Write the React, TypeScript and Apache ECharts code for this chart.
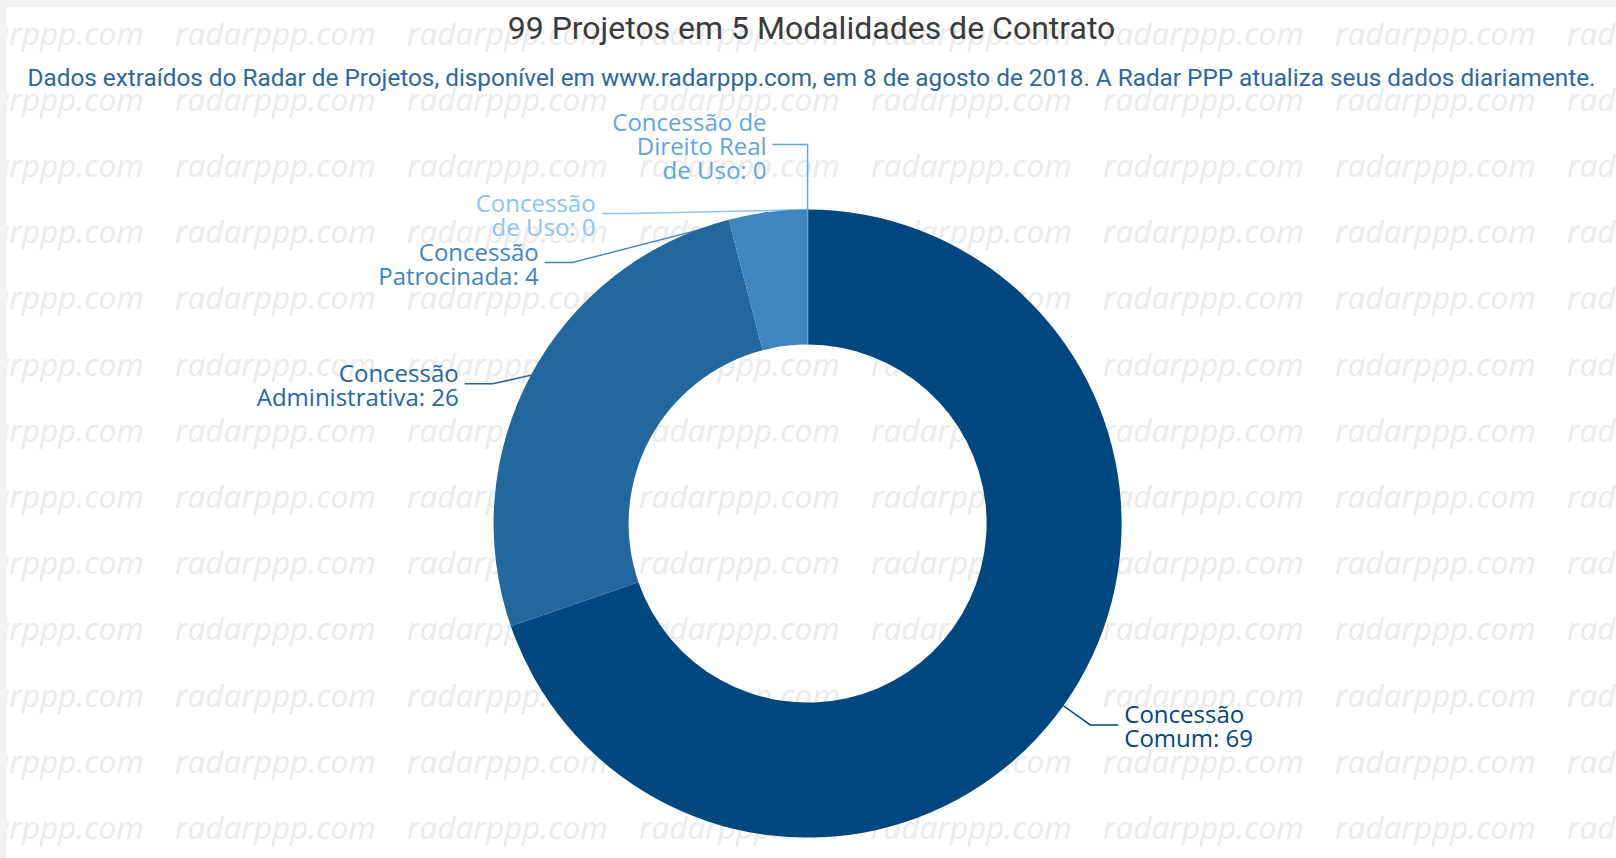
import React, { useEffect, useRef } from "react";
import * as echarts from "echarts";

const titleText = "99 Projetos em 5 Modalidades de Contrato";
const subtitleText =
  "Dados extraídos do Radar de Projetos, disponível em www.radarppp.com, em 8 de agosto de 2018. A Radar PPP atualiza seus dados diariamente.";

const categories = [
  "Concessão Comum",
  "Concessão Administrativa",
  "Concessão Patrocinada",
  "Concessão de Uso",
  "Concessão de Direito Real de Uso",
];
const wrappedNames = [
  "Concessão\nComum",
  "Concessão\nAdministrativa",
  "Concessão\nPatrocinada",
  "Concessão\nde Uso",
  "Concessão de\nDireito Real\nde Uso",
];
const values = [69, 26, 4, 0, 0];
const colors = ["#00467f", "#22679e", "#3f86bf", "#8ec4ee", "#5fa6dd"];
const watermarkText = "radarppp.com";

// label-placement tweaks (emulating the older overlap-avoidance layout)
const labelShiftX = [0, -9, -191, -178, 0];
const labelShiftY = [0, 24, 83, 37, -32];
const labelLen2 = [28, 28, 28, 28, 35];

const CX = 800.6;
const CY = 516.6;
const R_IN = 179;
const R_OUT = 314;
const LEN1 = 33;
const LEN2 = 28;
const GAP = 6;

export default function App() {
  const ref = useRef<HTMLDivElement>(null);

  useEffect(() => {
    document.body.style.background = "#f2f2f2";
    const chart = echarts.init(ref.current!, null, { renderer: "svg" });

    const wm: any[] = [];
    for (let r = 0; r < 13; r++) {
      for (let c = 0; c < 8; c++) {
        wm.push({
          type: "text",
          x: -64 + c * 232,
          y: 25 + r * 66.2,
          z: -10,
          silent: true,
          style: {
            text: watermarkText,
            fill: "#ebebeb",
            font: "italic 31.5px 'Open Sans'",
            textVerticalAlign: "middle",
          },
        });
      }
    }

    chart.setOption({
      animation: false,
      backgroundColor: "#ffffff",
      title: [
        {
          text: titleText,
          left: "center",
          top: 0,
          textStyle: {
            fontFamily: "Roboto",
            fontSize: 32,
            fontWeight: "normal",
            color: "#3a3a3a",
          },
        },
        {
          text: subtitleText,
          left: "center",
          top: 53,
          textStyle: {
            fontFamily: "Roboto",
            fontSize: 24.3,
            fontWeight: "normal",
            color: "#2d679d",
          },
        },
      ],
      graphic: wm,
      series: [
        {
          type: "pie",
          center: [CX, CY],
          radius: [R_IN, R_OUT],
          startAngle: 90,
          clockwise: true,
          avoidLabelOverlap: true,
          label: {
            show: true,
            fontFamily: "Open Sans",
            fontSize: 24,
            lineHeight: 24,
            color: "inherit",
            formatter: (p: any) => wrappedNames[p.dataIndex] + ": " + p.value,
          },
          labelLine: {
            show: true,
            length: LEN1,
            length2: LEN2,
            lineStyle: { width: 1.5 },
          },
          labelLayout: (params: any) => {
            const i = params.dataIndex;
            const pts = params.labelLinePoints;
            if (!pts || !pts.length) return {};
            const p0 = pts[0];
            const dx = p0[0] - CX;
            const dy = p0[1] - CY;
            const d = Math.hypot(dx, dy) || 1;
            const n = [p0[0] + (dx / d) * LEN1, p0[1] + (dy / d) * LEN1];
            const p1 = [n[0] + labelShiftX[i], n[1] + labelShiftY[i]];
            const dir = params.align === "right" ? -1 : 1;
            const p2 = [p1[0] + dir * labelLen2[i], p1[1]];
            return {
              x: p2[0] + dir * GAP,
              y: p2[1] + 1,
              align: dir > 0 ? "left" : "right",
              verticalAlign: "middle",
              labelLinePoints: [p0, p1, p2],
            };
          },
          data: categories.map((name, i) => ({
            name,
            value: values[i],
            itemStyle:
              values[i] === 0
                ? { color: colors[i], borderColor: colors[i], borderWidth: 1 }
                : { color: colors[i] },
          })),
        },
      ],
    });
    return () => chart.dispose();
  }, []);

  return (
    <div
      ref={ref}
      style={{
        position: "fixed",
        left: 7,
        top: 7,
        width: 1609,
        height: 851,
        background: "#fff",
      }}
    />
  );
}
